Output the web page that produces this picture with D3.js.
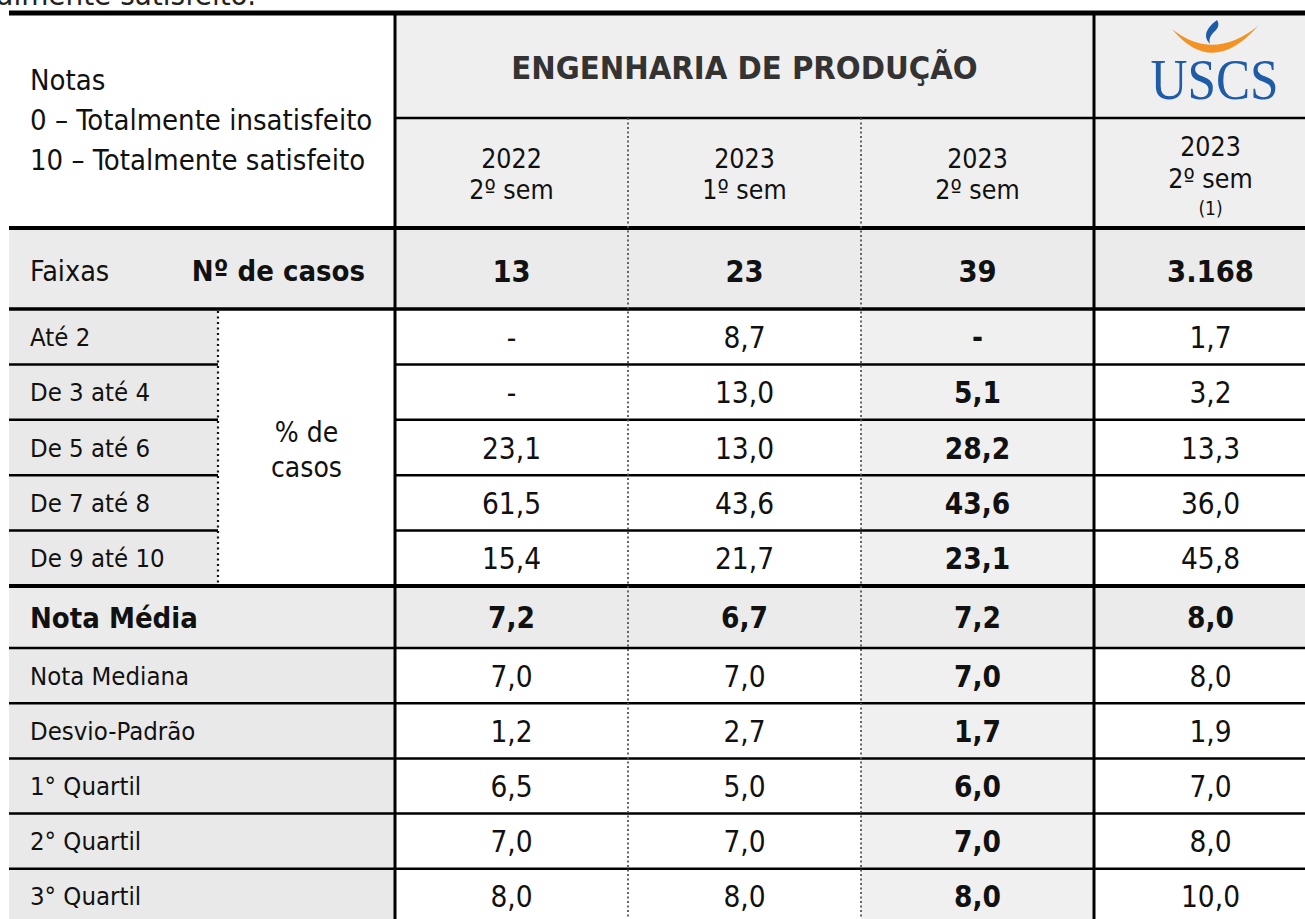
<!DOCTYPE html>
<html>
<head>
<meta charset="UTF-8">
<title>Engenharia de Produção - Notas</title>
<script src="https://cdn.jsdelivr.net/npm/d3@7"></script>
<style>
  body { margin: 0; background: #fff; }
  svg { display: block; font-family: "DejaVu Sans Condensed", "DejaVu Sans", sans-serif; }
</style>
</head>
<body>
<svg width="1305" height="919"></svg>
<script>
// dados da tabela
var anos = ["2022", "2023", "2023", "2023"];
var semestres = ["2º sem", "1º sem", "2º sem", "2º sem"];
var notasRodape = ["", "", "", "(1)"];
var casos = [13, 23, 39, 3168];
var faixas = ["Até 2", "De 3 até 4", "De 5 até 6", "De 7 até 8", "De 9 até 10"];
var faixasCol = [
  [null, null, 23.1, 61.5, 15.4],
  [8.7, 13.0, 13.0, 43.6, 21.7],
  [null, 5.1, 28.2, 43.6, 23.1],
  [1.7, 3.2, 13.3, 36.0, 45.8]
];
var estatisticas = ["Nota Média", "Nota Mediana", "Desvio-Padrão", "1° Quartil", "2° Quartil", "3° Quartil"];
var estatCol = [
  [7.2, 7.0, 1.2, 6.5, 7.0, 8.0],
  [6.7, 7.0, 2.7, 5.0, 7.0, 8.0],
  [7.2, 7.0, 1.7, 6.0, 7.0, 8.0],
  [8.0, 8.0, 1.9, 7.0, 8.0, 10.0]
];
var legenda = ["Notas", "0 – Totalmente insatisfeito", "10 – Totalmente satisfeito"];
var titulo = "ENGENHARIA DE PRODUÇÃO";
var destaque = 2; // coluna destacada (negrito + fundo)

var svg = d3.select("svg");
var W = +svg.attr("width"), H = +svg.attr("height");

var br = d3.formatLocale({decimal: ",", thousands: ".", grouping: [3], currency: ["R$", ""]});
var f1 = br.format(".1f"), fInt = br.format(",d");

// escalas
var x0 = 9, xSplit = 218;
var x = d3.scaleBand().domain(d3.range(4)).range([395, 1327]);
var bw = x.bandwidth();
var yTop = 13, yMid = 118, yHead = 228, yCasos = 309;
var yF = d3.scaleBand().domain(faixas).range([yCasos, 586]);
var yMedia = 648;
var yS = d3.scaleBand().domain(estatisticas.slice(1)).range([yMedia, 924]);
function rowY(i) { return i == 0 ? 586 : yS(estatisticas[i]); }
function rowH(i) { return i == 0 ? yMedia - 586 : yS.bandwidth(); }

var cinza = "#ebebeb", cinzaCab = "#efefef", cinzaDest = "#f0f0f0";

// fundos
var bg = svg.append("g");
bg.append("rect").attr("x", x(0)).attr("y", yTop).attr("width", W - x(0)).attr("height", yHead - yTop).attr("fill", cinzaCab);
bg.append("rect").attr("x", x0).attr("y", yHead).attr("width", W - x0).attr("height", yCasos - yHead).attr("fill", cinza);
bg.append("rect").attr("x", x0).attr("y", yCasos).attr("width", xSplit - x0).attr("height", 586 - yCasos).attr("fill", "#e9e9e9");
bg.append("rect").attr("x", x(destaque)).attr("y", yCasos).attr("width", bw).attr("height", H - yCasos).attr("fill", cinzaDest);
bg.append("rect").attr("x", x0).attr("y", 586).attr("width", W - x0).attr("height", yMedia - 586).attr("fill", cinza);
bg.append("rect").attr("x", x0).attr("y", yMedia).attr("width", x(0) - x0).attr("height", H - yMedia).attr("fill", "#e9e9e9");

// linhas
var lines = svg.append("g").attr("stroke", "#000");
function hline(x1, x2, y, w) {
  lines.append("line").attr("x1", x1).attr("x2", x2).attr("y1", y).attr("y2", y).attr("stroke-width", w);
}
hline(x0, W, yTop, 5);
hline(x(0), W, yMid, 2.5);
hline(x0, W, yHead, 4);
hline(x0, W, yCasos, 3.5);
faixas.slice(1).forEach(function(f) {
  hline(x0, xSplit, yF(f), 2.5);
  hline(x(0), W, yF(f), 2.5);
});
hline(x0, W, 586, 4);
estatisticas.slice(1).forEach(function(s) { hline(x0, W, yS(s), 2.5); });

[x(0), x(3)].forEach(function(xx) {
  lines.append("line").attr("x1", xx).attr("x2", xx).attr("y1", yTop - 2).attr("y2", H).attr("stroke-width", 3);
});
[x(1), x(2)].forEach(function(xx) {
  lines.append("line").attr("x1", xx).attr("x2", xx).attr("y1", yMid).attr("y2", H)
    .attr("stroke", "#555").attr("stroke-width", 1.8).attr("stroke-dasharray", "2,2.5");
});
lines.append("line").attr("x1", xSplit).attr("x2", xSplit).attr("y1", yCasos + 2).attr("y2", 586)
  .attr("stroke", "#111").attr("stroke-width", 2.2).attr("stroke-dasharray", "2,3.5");

// texto cortado no topo (continua da página anterior)
svg.append("text").attr("x", 256).attr("y", 5).attr("text-anchor", "end")
  .attr("font-size", 31).attr("fill", "#222").text("totalmente satisfeito.");

// cabeçalho esquerdo
svg.append("g").selectAll("text").data(legenda).enter().append("text")
  .attr("x", 30).attr("y", function(d, i) { return 90 + i * 40; })
  .attr("font-size", 29).attr("fill", "#111").text(function(d) { return d; });

svg.append("text").attr("x", (x(0) + x(3)) / 2).attr("y", 79).attr("text-anchor", "middle")
  .attr("font-size", 32.5).attr("font-weight", "bold").attr("fill", "#333").text(titulo);

// cabeçalhos das colunas
var cab = svg.append("g").attr("text-anchor", "middle").attr("fill", "#111").attr("font-size", 26.5)
  .selectAll("g").data(d3.range(4)).enter().append("g")
  .attr("transform", function(c) { return "translate(" + (x(c) + bw / 2) + ",0)"; });
cab.append("text").attr("y", function(c) { return notasRodape[c] ? 156 : 168; }).text(function(c) { return anos[c]; });
cab.append("text").attr("y", function(c) { return notasRodape[c] ? 188 : 199; }).text(function(c) { return semestres[c]; });
cab.append("text").attr("y", 215).attr("font-size", 19).text(function(c) { return notasRodape[c]; });

// logo USCS
var logo = svg.append("g");
logo.append("path").attr("fill", "#f39325")
  .attr("d", "M1172,29 Q1212,78 1258,26 Q1213,62 1172,29 Z");
logo.append("path").attr("fill", "#1e5ca8")
  .attr("d", "M1217,20 C1205,29 1203,37 1210,44 C1208,38 1212,34 1216,30 C1219,27 1219,23 1217,20 Z");
logo.append("text").attr("x", 1214.5).attr("y", 99).attr("text-anchor", "middle")
  .attr("font-family", "'Liberation Serif', serif").attr("font-size", 56).attr("fill", "#1e5ca8")
  .attr("textLength", 128).attr("lengthAdjust", "spacingAndGlyphs").text("USCS");

// linha de casos
svg.append("text").attr("x", 30).attr("y", 281).attr("font-size", 28.5).attr("fill", "#111").text("Faixas");
svg.append("text").attr("x", 365).attr("y", 281).attr("text-anchor", "end").attr("font-size", 29)
  .attr("font-weight", "bold").attr("fill", "#111").text("Nº de casos");
svg.append("g").selectAll("text").data(casos).enter().append("text")
  .attr("x", function(d, c) { return x(c) + bw / 2; }).attr("y", 282).attr("text-anchor", "middle")
  .attr("font-size", 30.5).attr("font-weight", "bold").attr("fill", "#111").text(function(d) { return fInt(d); });

// faixas
svg.append("g").selectAll("text").data(faixas).enter().append("text")
  .attr("x", 30).attr("y", function(d) { return yF(d) + yF.bandwidth() / 2 + 9; })
  .attr("font-size", 25.5).attr("fill", "#111").text(function(d) { return d; });
svg.append("g").attr("text-anchor", "middle").attr("font-size", 28).attr("fill", "#111")
  .selectAll("text").data(["% de", "casos"]).enter().append("text")
  .attr("x", (xSplit + x(0)) / 2).attr("y", function(d, i) { return 442 + i * 35; }).text(function(d) { return d; });

var cellsF = [];
faixasCol.forEach(function(col, c) {
  col.forEach(function(v, r) { cellsF.push({c: c, r: r, v: v}); });
});
svg.append("g").selectAll("text").data(cellsF).enter().append("text")
  .attr("x", function(d) { return x(d.c) + bw / 2; })
  .attr("y", function(d) { return yF(faixas[d.r]) + yF.bandwidth() / 2 + 11; })
  .attr("text-anchor", "middle").attr("font-size", 29.5).attr("fill", "#111")
  .attr("font-weight", function(d) { return d.c == destaque ? "bold" : "normal"; })
  .text(function(d) { return d.v == null ? "-" : f1(d.v); });

// estatísticas
svg.append("g").selectAll("text").data(estatisticas).enter().append("text")
  .attr("x", 30).attr("y", function(d, i) { return rowY(i) + rowH(i) / 2 + (i == 0 ? 11 : 9); })
  .attr("font-size", function(d, i) { return i == 0 ? 29 : 25.5; })
  .attr("font-weight", function(d, i) { return i == 0 ? "bold" : "normal"; })
  .attr("fill", "#111").text(function(d) { return d; });

var cellsS = [];
estatCol.forEach(function(col, c) {
  col.forEach(function(v, r) { cellsS.push({c: c, r: r, v: v}); });
});
svg.append("g").selectAll("text").data(cellsS).enter().append("text")
  .attr("x", function(d) { return x(d.c) + bw / 2; })
  .attr("y", function(d) { return rowY(d.r) + rowH(d.r) / 2 + 11; })
  .attr("text-anchor", "middle").attr("font-size", 29.5).attr("fill", "#111")
  .attr("font-weight", function(d) { return (d.c == destaque || d.r == 0) ? "bold" : "normal"; })
  .text(function(d) { return f1(d.v); });
</script>
</body>
</html>
